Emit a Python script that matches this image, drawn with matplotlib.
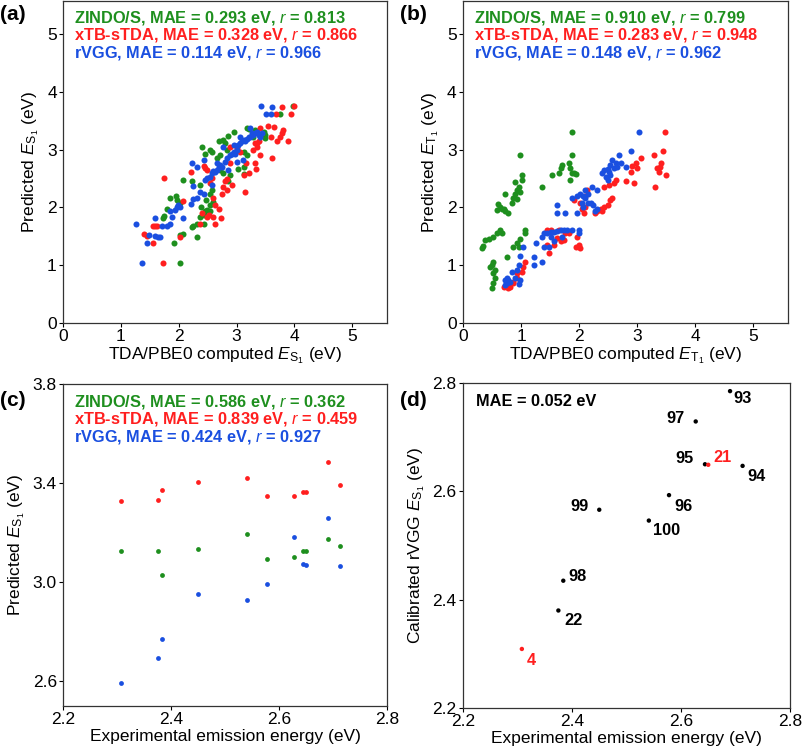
import matplotlib
matplotlib.use("Agg")
import matplotlib.pyplot as plt

plt.rcParams['font.family'] = ['Liberation Sans', 'DejaVu Sans']
plt.rcParams['mathtext.fontset'] = 'custom'
plt.rcParams['mathtext.rm'] = 'Liberation Sans'
plt.rcParams['mathtext.it'] = 'Liberation Sans:italic'
plt.rcParams['mathtext.bf'] = 'Liberation Sans:bold'

GREEN = '#1e8f1e'
RED = '#ff1f1f'
BLUE = '#1a4fe0'

# ---------------- Panel (a): S1 ----------------
a_blue_x = [3.42, 3.62, 3.51, 3.59, 1.26, 1.37, 1.46, 1.49, 1.59, 1.65, 1.68, 1.59, 1.71, 1.79, 1.85,
            1.88, 1.85, 1.94, 1.99, 2.02, 1.97, 2.07, 2.21, 2.25, 2.31, 2.37, 2.43, 2.24, 2.23, 2.31,
            2.43, 2.46, 2.49, 2.54, 2.57, 2.60, 2.63, 2.66, 2.69, 2.72, 2.75, 2.66, 2.80, 2.83, 2.86,
            2.88, 2.92, 2.95, 2.98, 3.00, 3.03, 3.06, 3.09, 3.12, 3.18, 3.21, 3.24, 3.26, 3.29, 3.32,
            3.35, 3.38, 3.41, 3.44, 3.24, 3.06, 3.15, 2.95, 3.00, 3.11, 2.57, 2.76]
a_blue_y = [3.75, 3.73, 3.62, 3.62, 1.72, 1.03, 1.38, 1.53, 1.51, 1.49, 1.48, 1.82, 1.68, 1.68, 1.72,
            1.84, 1.93, 1.96, 2.04, 2.01, 2.01, 1.81, 2.06, 2.14, 2.17, 2.27, 2.24, 2.37, 2.76, 2.70,
            2.82, 2.47, 2.50, 2.53, 2.59, 2.63, 2.62, 2.65, 2.70, 2.73, 2.70, 2.77, 2.79, 2.85, 2.65,
            2.91, 2.92, 2.95, 2.93, 2.99, 3.08, 3.11, 3.14, 3.17, 3.19, 3.22, 3.22, 3.28, 3.25, 3.28,
            3.31, 3.25, 3.22, 3.29, 3.37, 3.22, 3.14, 3.08, 2.79, 2.82, 2.39, 3.05]

a_green_x = [3.98, 3.75, 2.02, 1.92, 2.02, 2.08, 2.31, 2.23, 2.25, 2.31, 2.37, 2.43, 2.46, 2.49, 2.54,
             2.60, 2.44, 1.72, 1.74, 1.79, 1.85, 1.95, 1.97, 2.02, 2.08, 2.23, 2.37, 2.40, 2.46, 2.54,
             2.57, 2.69, 2.77, 2.80, 2.85, 2.95, 2.72, 2.66, 2.77, 2.86, 2.88, 3.03, 3.12, 3.12, 3.18,
             3.18, 3.21, 3.32, 3.47, 3.49, 3.49, 3.12, 2.83, 2.54, 2.47, 2.39, 2.54, 2.57, 2.72, 3.29]
a_green_y = [3.75, 3.62, 1.03, 1.38, 1.52, 1.54, 1.48, 1.66, 1.67, 1.72, 1.84, 1.87, 1.93, 1.96, 2.04,
             2.10, 1.72, 1.82, 1.85, 1.98, 2.16, 2.19, 2.13, 2.07, 2.47, 2.45, 2.39, 3.05, 2.93, 3.00,
             2.96, 3.15, 3.17, 3.11, 3.24, 3.30, 2.91, 2.85, 2.59, 2.45, 2.56, 2.66, 2.69, 2.57, 2.91,
             3.37, 3.35, 3.33, 3.31, 3.25, 3.20, 2.96, 2.99, 2.24, 2.13, 2.01, 1.93, 2.30, 2.65, 3.22]

a_red_x = [3.78, 3.94, 3.68, 3.99, 1.75, 1.40, 1.45, 1.55, 1.59, 1.62, 1.55, 1.72, 2.02, 2.07, 2.21,
           2.40, 2.43, 2.46, 2.49, 2.54, 2.57, 2.60, 2.63, 2.60, 2.49, 2.53, 2.63, 2.70, 2.73, 2.75,
           2.76, 2.80, 2.83, 2.88, 2.89, 3.00, 3.06, 3.15, 3.12, 3.17, 3.22, 3.32, 3.34, 3.35, 3.32,
           3.40, 3.38, 3.41, 3.35, 3.59, 3.61, 3.70, 3.75, 3.78, 3.81, 3.89, 3.64, 3.55, 3.29, 2.84,
           2.92, 2.37]
a_red_y = [3.73, 3.62, 3.62, 3.75, 2.50, 1.54, 1.51, 1.67, 1.68, 1.67, 1.38, 1.03, 1.48, 2.11, 2.62,
           1.90, 2.72, 2.68, 2.65, 2.42, 2.50, 2.16, 2.04, 1.84, 1.83, 1.86, 1.72, 1.97, 1.82, 2.24,
           2.36, 2.45, 2.49, 3.05, 2.77, 3.02, 2.96, 2.27, 2.56, 2.77, 2.59, 2.77, 2.66, 3.11, 3.11,
           3.38, 3.14, 2.91, 3.05, 3.22, 2.85, 3.14, 3.22, 3.28, 3.33, 3.15, 3.39, 3.40, 2.99, 2.30,
           2.39, 1.72]

# ---------------- Panel (b): T1 ----------------
b_green_x = [0.50, 0.52, 0.55, 0.52, 0.55, 0.50, 0.52, 0.47, 0.75, 0.32, 0.35, 0.38, 0.44, 0.52, 0.58,
             0.63, 0.67, 0.87, 0.93, 0.99, 1.07, 1.07, 0.96, 0.61, 0.64, 0.67, 0.70, 0.73, 0.78, 0.58,
             0.73, 0.87, 0.90, 0.93, 0.96, 0.99, 1.01, 1.01, 0.90, 0.99, 0.84, 0.93, 1.36, 1.53, 1.66,
             1.68, 1.71, 1.82, 1.84, 1.88, 1.91, 1.88, 1.87, 1.94, 1.85]
b_green_y = [0.60, 0.69, 0.77, 0.86, 0.92, 1.00, 1.06, 0.97, 1.15, 1.29, 1.33, 1.43, 1.45, 1.49, 1.55,
             1.61, 1.55, 1.32, 1.38, 1.46, 1.61, 1.55, 1.32, 2.06, 2.01, 1.97, 1.98, 1.93, 1.90, 1.96,
             2.23, 2.16, 2.24, 2.30, 2.36, 2.27, 2.47, 2.56, 2.44, 2.91, 2.07, 2.14, 2.36, 2.56, 2.59,
             2.68, 2.73, 2.76, 2.68, 2.59, 2.59, 2.91, 3.31, 2.58, 2.47]

b_blue_x = [3.03, 2.89, 2.69, 2.57, 2.63, 2.54, 2.60, 2.49, 2.43, 2.40, 2.51, 2.66, 2.72, 2.80, 2.54,
            2.49, 2.46, 2.31, 2.23, 2.11, 2.02, 1.97, 1.88, 2.07, 2.11, 2.05, 2.07, 2.15, 2.20, 2.24,
            2.31, 2.28, 2.15, 1.76, 1.62, 1.62, 1.97, 2.00, 2.00, 1.88, 1.79, 1.74, 1.68, 1.62, 1.56,
            1.51, 1.45, 1.39, 1.36, 1.51, 1.71, 1.56, 1.39, 1.48, 1.25, 1.22, 1.36, 1.22, 1.04, 0.99,
            0.96, 0.93, 0.84, 0.76, 0.73, 0.78, 0.81, 0.76, 0.90, 0.99, 0.96, 0.73]
b_blue_y = [3.31, 2.97, 2.91, 2.82, 2.76, 2.73, 2.68, 2.66, 2.65, 2.59, 2.62, 2.70, 2.77, 2.69, 2.56,
            2.47, 2.53, 2.30, 2.36, 2.30, 2.24, 2.20, 2.16, 2.19, 2.16, 2.07, 2.01, 2.07, 2.08, 2.04,
            1.98, 1.93, 2.23, 1.91, 1.90, 2.04, 1.90, 1.61, 1.55, 1.61, 1.61, 1.61, 1.61, 1.60, 1.58,
            1.58, 1.56, 1.55, 1.49, 1.49, 1.49, 1.41, 1.32, 1.32, 1.38, 1.15, 1.06, 1.00, 1.32, 1.16,
            1.00, 0.92, 0.89, 0.77, 0.74, 0.74, 0.71, 0.69, 0.77, 0.74, 0.67, 0.66]

b_red_x = [3.48, 3.45, 3.29, 3.41, 3.39, 3.35, 3.38, 3.49, 3.30, 3.06, 2.98, 2.92, 3.00, 2.89, 2.95,
           2.80, 2.63, 2.60, 2.51, 2.43, 2.57, 2.54, 2.49, 2.43, 2.37, 2.31, 2.28, 2.40, 2.11, 2.08,
           2.05, 2.02, 2.14, 2.11, 1.91, 2.00, 1.94, 2.02, 1.97, 1.82, 1.76, 1.74, 1.68, 1.62, 1.51,
           1.45, 1.45, 1.56, 1.65, 1.48, 1.07, 1.04, 1.01, 0.93, 0.87, 0.81, 0.78, 0.70, 0.87, 0.93]
b_red_y = [3.31, 2.97, 2.91, 2.76, 2.70, 2.68, 2.62, 2.56, 2.36, 2.85, 2.77, 2.72, 2.68, 2.62, 2.43,
           2.46, 2.47, 2.42, 2.39, 2.36, 2.16, 2.13, 2.04, 2.01, 1.98, 1.93, 1.90, 1.93, 2.01, 1.90,
           1.98, 2.07, 2.30, 2.19, 2.13, 1.35, 1.32, 1.29, 1.49, 1.55, 1.55, 1.44, 1.41, 1.47, 1.61,
           1.61, 1.35, 1.35, 1.61, 1.21, 1.06, 0.97, 0.89, 0.87, 0.71, 0.63, 0.60, 0.63, 0.69, 0.77]

# ---------------- Panel (c): experimental ----------------
exp_energy = [2.308, 2.375, 2.384, 2.450, 2.541, 2.578, 2.627, 2.644, 2.650, 2.690, 2.713]
c_zindo = [3.125, 3.125, 3.028, 3.132, 3.194, 3.093, 3.101, 3.125, 3.125, 3.173, 3.146]
c_xtb = [3.327, 3.330, 3.373, 3.404, 3.422, 3.346, 3.347, 3.362, 3.363, 3.484, 3.394]
c_rvgg = [2.594, 2.693, 2.771, 2.953, 2.926, 2.992, 3.182, 3.073, 3.070, 3.258, 3.067]

# ---------------- Panel (d): calibrated ----------------
d_labels = ['4', '22', '98', '99', '100', '96', '97', '95', '21', '93', '94']
d_calib = [2.309, 2.380, 2.435, 2.566, 2.546, 2.593, 2.729, 2.650, 2.649, 2.785, 2.647]
d_highlight = ['4', '21']

# ---------------- Figure ----------------
fig = plt.figure(figsize=(8.02, 7.52), dpi=100)
W, H = 802, 752

def px_axes(l, t, r, b):
    return fig.add_axes([l / W, 1 - b / H, (r - l) / W, (b - t) / H])

ax_a = px_axes(63, 1, 387, 323)
ax_b = px_axes(463, 1, 788, 323)
ax_c = px_axes(63, 384, 387, 706)
ax_d = px_axes(463, 383, 790, 708)

TICK_FS = 12.5
LAB_FS = 12.5
TXT_FS = 11.8

for ax in (ax_a, ax_b, ax_c, ax_d):
    ax.tick_params(direction='out', length=3, width=0.8, labelsize=TICK_FS, pad=1.5)
    for s in ax.spines.values():
        s.set_linewidth(0.9)
        s.set_color('#333333')

S_BIG = 19

def scat(ax, x, y, c, s=S_BIG):
    ax.scatter(x, y, s=s, c=c, linewidths=0, zorder=3)

# (a)
scat(ax_a, a_green_x, a_green_y, GREEN)
scat(ax_a, a_red_x, a_red_y, RED)
scat(ax_a, a_blue_x, a_blue_y, BLUE)
ax_a.set_xlim(0, 5.6)
ax_a.set_ylim(0, 5.57)
ax_a.set_xticks(range(6))
ax_a.set_yticks(range(6))
ax_a.set_xlabel(r'TDA/PBE0 computed $\mathit{E}_{\mathrm{S}_1}$ (eV)', fontsize=LAB_FS, labelpad=1)
ax_a.set_ylabel(r'Predicted $\mathit{E}_{\mathrm{S}_1}$ (eV)', fontsize=LAB_FS, labelpad=4)

# (b)
scat(ax_b, b_green_x, b_green_y, GREEN)
scat(ax_b, b_red_x, b_red_y, RED)
scat(ax_b, b_blue_x, b_blue_y, BLUE)
ax_b.set_xlim(0, 5.6)
ax_b.set_ylim(0, 5.57)
ax_b.set_xticks(range(6))
ax_b.set_yticks(range(6))
ax_b.set_xlabel(r'TDA/PBE0 computed $\mathit{E}_{\mathrm{T}_1}$ (eV)', fontsize=LAB_FS, labelpad=1)
ax_b.set_ylabel(r'Predicted $\mathit{E}_{\mathrm{T}_1}$ (eV)', fontsize=LAB_FS, labelpad=4)

# (c)
S_SMALL = 12
scat(ax_c, exp_energy, c_zindo, GREEN, S_SMALL)
scat(ax_c, exp_energy, c_xtb, RED, S_SMALL)
scat(ax_c, exp_energy, c_rvgg, BLUE, S_SMALL)
ax_c.set_xlim(2.2, 2.8)
ax_c.set_ylim(2.5, 3.8)
ax_c.set_xticks([2.2, 2.4, 2.6, 2.8])
ax_c.set_yticks([2.6, 3.0, 3.4, 3.8])
ax_c.set_xticklabels(['2.2', '2.4', '2.6', '2.8'])
ax_c.set_yticklabels(['2.6', '3.0', '3.4', '3.8'])
ax_c.set_xlabel('Experimental emission energy (eV)', fontsize=LAB_FS, labelpad=1)
ax_c.set_ylabel(r'Predicted $\mathit{E}_{\mathrm{S}_1}$ (eV)', fontsize=LAB_FS, labelpad=4)

# (d)
d_colors = [RED if lab in d_highlight else 'black' for lab in d_labels]
ax_d.scatter(exp_energy, d_calib, s=10, c=d_colors, linewidths=0, zorder=3)
offsets = {'4': (9, -12), '22': (15, -10), '98': (14, 4), '99': (-20, 3), '100': (18, -10),
           '96': (14, -11), '97': (-20, 3), '95': (-20, 6), '21': (14, 7), '93': (13, -7),
           '94': (14, -11)}
for xv, yv, lab, col in zip(exp_energy, d_calib, d_labels, d_colors):
    ax_d.annotate(lab, (xv, yv), xytext=offsets[lab], textcoords='offset pixels',
                  ha='center', va='center', fontsize=11.8, fontweight='bold', color=col)
ax_d.set_xlim(2.2, 2.8)
ax_d.set_ylim(2.2, 2.8)
ax_d.set_xticks([2.2, 2.4, 2.6, 2.8])
ax_d.set_yticks([2.2, 2.4, 2.6, 2.8])
ax_d.set_xticklabels(['2.2', '2.4', '2.6', '2.8'])
ax_d.set_yticklabels(['2.2', '2.4', '2.6', '2.8'])
ax_d.set_xlabel('Experimental emission energy (eV)', fontsize=LAB_FS, labelpad=1)
ax_d.set_ylabel(r'Calibrated rVGG $\mathit{E}_{\mathrm{S}_1}$ (eV)', fontsize=LAB_FS, labelpad=4)

# metric texts
def metrics(ax, lines, y0, dy):
    for i, (name, mae, r, col) in enumerate(lines):
        ax.text(0.034, y0 - i * dy,
                name + ', MAE = ' + mae + r' eV, $\mathit{r}$ = ' + r,
                transform=ax.transAxes, fontsize=TXT_FS, fontweight='bold',
                color=col, ha='left', va='center')

metrics(ax_a, [('ZINDO/S', '0.293', '0.813', GREEN), ('xTB-sTDA', '0.328', '0.866', RED),
               ('rVGG', '0.114', '0.966', BLUE)], 0.948, 0.054)
metrics(ax_b, [('ZINDO/S', '0.910', '0.799', GREEN), ('xTB-sTDA', '0.283', '0.948', RED),
               ('rVGG', '0.148', '0.962', BLUE)], 0.948, 0.054)
metrics(ax_c, [('ZINDO/S', '0.586', '0.362', GREEN), ('xTB-sTDA', '0.839', '0.459', RED),
               ('rVGG', '0.424', '0.927', BLUE)], 0.944, 0.054)
ax_d.text(0.04, 0.942, 'MAE = 0.052 eV', transform=ax_d.transAxes, fontsize=TXT_FS,
          fontweight='bold', color='black', ha='left', va='center')

# panel letters
for lab, xp, yp in [('(a)', 0, 15), ('(b)', 400, 15), ('(c)', 0, 400), ('(d)', 400, 400)]:
    fig.text(xp / W, 1 - yp / H, lab, fontsize=15, fontweight='bold', ha='left', va='center')

fig.savefig('out.png', dpi=100)
